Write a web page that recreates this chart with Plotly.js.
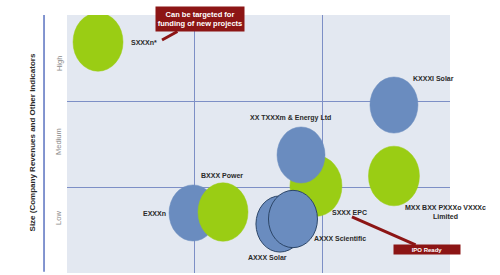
<!DOCTYPE html>
<html><head><meta charset="utf-8">
<script src="https://cdn.plot.ly/plotly-3.0.1.min.js"></script>
<style>html,body{margin:0;padding:0;background:#fff}#chart{width:500px;height:275px}</style>
</head><body><div id="chart"></div>
<script>
// ---- data ----
const companies = ['SXXXn*', 'KXXXI Solar', 'MXX BXX PXXXo VXXXc<br>Limited', 'SXXX EPC',
  'XX TXXXm & Energy Ltd', 'EXXXn', 'BXXX Power', 'AXXX Solar', 'AXXX Scientific'];
const segment = ['green', 'blue', 'green', 'green', 'blue', 'blue', 'green', 'blue', 'blue'];
const growth = [0.243, 2.561, 2.561, 1.950, 1.833, 0.987, 1.222, 1.668, 1.770];
const sizeScore = [2.686, 1.953, 1.128, 1.012, 1.372, 0.698, 0.709, 0.570, 0.628];
const bubbleSize = [50, 48, 51, 52, 48, 48, 50, 48, 49];
const sizeLevels = ['Low', 'Medium', 'High'];
const yTitle = 'Size (Company Revenues and Other Indicators';
const callout1 = 'Can be targeted for<br>funding of new projects';
const callout2 = 'IPO Ready';

// ---- style ----
const W = 500, H = 275, M = {l: 67, r: 50, t: 15, b: 2};
const pw = W - M.l - M.r, ph = H - M.t - M.b;
const pxX = pw / 3, pxY = ph / 3;
const aspect = 1.17;
const fillCol = {green: '#9acd14', blue: '#6a8cbf'};
const outline = [null, null, null, null, null, null, null, '#2c4668', '#2c4668'];
// label placement: [dx(px), dy(px, + = down), xanchor] relative to bubble centre
const labelPos = [
  [31, 0, 'left'], [17, -27, 'left'], [52, 36.5, 'center'], [14, 27, 'left'],
  [-11, -37, 'center'], [-25, 1, 'right'], [-1.5, -37, 'center'], [-12.5, 34, 'center'], [19, 20, 'left']
];

const shapes = [];
companies.forEach((c, i) => {
  const rx = bubbleSize[i] / 2 / pxX, ry = bubbleSize[i] * aspect / 2 / pxY;
  shapes.push({
    type: 'circle', xref: 'x', yref: 'y', layer: 'above',
    x0: growth[i] - rx, x1: growth[i] + rx, y0: sizeScore[i] - ry, y1: sizeScore[i] + ry,
    fillcolor: fillCol[segment[i]],
    line: {color: outline[i] || fillCol[segment[i]], width: outline[i] ? 1 : 0.5}
  });
});
// y axis line drawn left of plot
shapes.push({type: 'line', xref: 'paper', yref: 'paper', x0: -0.06, x1: -0.06, y0: 0.005, y1: 1,
  line: {color: '#5a72c0', width: 1.5}});

const lblFont = {family: 'Liberation Sans, Arial, sans-serif', size: 7, color: '#2a2a2a'};
const annotations = companies.map((c, i) => ({
  x: growth[i] + labelPos[i][0] / pxX, y: sizeScore[i] - labelPos[i][1] / pxY,
  xref: 'x', yref: 'y', text: '<b>' + c + '</b>', showarrow: false,
  xanchor: labelPos[i][2], yanchor: 'middle', font: lblFont
}));
// y tick labels
const tickY = [0.64, 1.535, 2.44];
sizeLevels.forEach((t, i) => annotations.push({
  x: -0.021, xref: 'paper', y: tickY[i], yref: 'y', text: t, showarrow: false, textangle: -90,
  xanchor: 'center', yanchor: 'middle',
  font: {family: 'Liberation Sans, Arial, sans-serif', size: 7.5, color: '#8a8a8a'}
}));
// y title
annotations.push({
  x: -0.0914, xref: 'paper', y: 0.506, yref: 'paper', text: '<b>' + yTitle + '</b>', showarrow: false,
  textangle: -90, xanchor: 'center', yanchor: 'middle',
  font: {family: 'Liberation Sans, Arial, sans-serif', size: 8, color: '#2a2a2a'}
});
// callouts
annotations.push({
  x: growth[0] + 64 / pxX, y: sizeScore[0] + 2 / pxY, xref: 'x', yref: 'y',
  text: '<b>' + callout1 + '</b>', showarrow: true, arrowhead: 0, arrowwidth: 3, arrowcolor: '#8c1515',
  axref: 'pixel', ayref: 'pixel', ax: 38, ay: -21, width: 88, height: 24, bgcolor: '#8c1515',
  borderpad: 0, font: {family: 'Liberation Sans, Arial, sans-serif', size: 7.5, color: '#ffffff'}
});
annotations.push({
  x: growth[3] + 36 / pxX, y: sizeScore[3] - 31 / pxY, xref: 'x', yref: 'y',
  text: '<b>' + callout2 + '</b>', showarrow: true, arrowhead: 0, arrowwidth: 3, arrowcolor: '#8c1515',
  axref: 'pixel', ayref: 'pixel', ax: 75, ay: 33, width: 66, height: 9, bgcolor: '#8c1515',
  borderpad: 0, font: {family: 'Liberation Sans, Arial, sans-serif', size: 6, color: '#ffffff'}
});

const trace = {
  type: 'scatter', mode: 'markers', x: growth, y: sizeScore, text: companies,
  marker: {opacity: 0, size: bubbleSize}, hoverinfo: 'text', showlegend: false
};

const layout = {
  width: W, height: H, margin: M, paper_bgcolor: '#ffffff', plot_bgcolor: '#e3e8f1',
  showlegend: false,
  xaxis: {range: [0, 3], tickvals: [1, 2], showticklabels: false, showgrid: true,
    gridcolor: '#7d8fc6', gridwidth: 1, zeroline: false, showline: false, ticks: ''},
  yaxis: {range: [0, 3], tickvals: [1, 2], showticklabels: false, showgrid: true,
    gridcolor: '#7d8fc6', gridwidth: 1, zeroline: false, showline: false, ticks: ''},
  shapes: shapes, annotations: annotations
};
Plotly.newPlot('chart', [trace], layout, {staticPlot: true, displayModeBar: false});
</script></body></html>
